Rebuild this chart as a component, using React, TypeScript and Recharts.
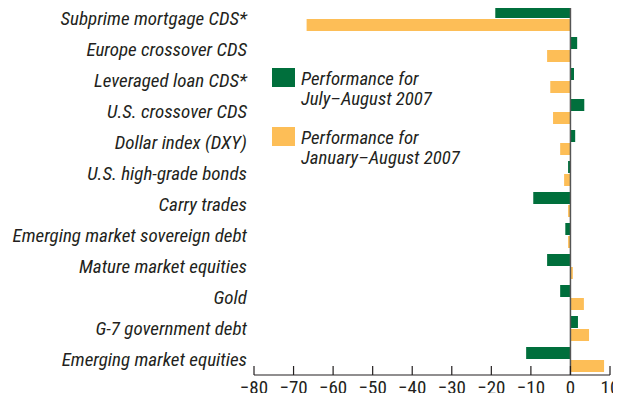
import { BarChart, Bar, XAxis, YAxis, ReferenceLine } from "recharts";

const categories: string[] = [
  "Subprime mortgage CDS*",
  "Europe crossover CDS",
  "Leveraged loan CDS*",
  "U.S. crossover CDS",
  "Dollar index (DXY)",
  "U.S. high-grade bonds",
  "Carry trades",
  "Emerging market sovereign debt",
  "Mature market equities",
  "Gold",
  "G-7 government debt",
  "Emerging market equities",
];

const julyAug: number[] = [-19.0, 1.7, 0.9, 3.5, 1.2, -0.6, -9.4, -1.3, -5.9, -2.6, 1.9, -11.2];
const janAug: number[] = [-66.7, -5.9, -5.1, -4.4, -2.6, -1.6, -0.6, -0.6, 0.6, 3.4, 4.7, 8.5];

const xTicks: number[] = [-80, -70, -60, -50, -40, -30, -20, -10, 0, 10];

const legendItems = [
  { key: "julyAug", lines: ["Performance for", "July\u2013August 2007"] },
  { key: "janAug", lines: ["Performance for", "January\u2013August 2007"] },
];

const data = categories.map((name, i) => ({
  name,
  julyAug: julyAug[i],
  janAug: janAug[i],
}));

const GREEN = "#006F3C";
const YELLOW = "#FDBE57";
const TEXT = "#231F20";
const FONT = "'Liberation Sans Narrow', 'Arial Narrow', 'Roboto Condensed', 'Liberation Sans', sans-serif";
const colors: Record<string, string> = { julyAug: GREEN, janAug: YELLOW };

const fmt = (v: number) => (v < 0 ? "\u2212" + Math.abs(v) : String(v));

function XTick(props: any) {
  const { x, y, payload } = props;
  return (
    <g>
      <line x1={x} x2={x} y1={y - 9} y2={y} stroke={TEXT} strokeWidth={1.2} />
      <text x={x} y={y + 19} textAnchor="middle" fill={TEXT} fontSize={19} fontFamily={FONT}>
        {fmt(payload.value)}
      </text>
    </g>
  );
}

function LegendBox() {
  return (
    <svg width={230} height={100} style={{ position: "absolute", left: 272, top: 68 }}>
      {legendItems.map((it, i) => (
        <g key={it.key} transform={`translate(0, ${i * 59})`}>
          <rect x={0} y={0} width={23} height={19} fill={colors[it.key]} />
          {it.lines.map((l, j) => (
            <text
              key={j}
              x={29}
              y={17 + j * 20}
              fontSize={18.8}
              fontStyle="italic"
              fill={TEXT}
              fontFamily={FONT}
            >
              {l}
            </text>
          ))}
        </g>
      ))}
    </svg>
  );
}

export default function App() {
  return (
    <div style={{ margin: -8, background: "#fff", position: "relative", width: 621, height: 401 }}>
      <BarChart
        width={621}
        height={401}
        data={data}
        layout="vertical"
        margin={{ top: 3, right: 11, bottom: 0, left: 0 }}
        barCategoryGap={3}
        barGap={1}
      >
        <XAxis
          type="number"
          domain={[-80, 10]}
          ticks={xTicks}
          interval={0}
          height={26}
          tickSize={0}
          tickMargin={0}
          tick={<XTick />}
          axisLine={{ stroke: TEXT, strokeWidth: 1.2 }}
          tickLine={false}
        />
        <YAxis
          type="category"
          dataKey="name"
          width={254}
          axisLine={false}
          tickLine={false}
          tickMargin={1}
          interval={0}
          tick={{ fill: TEXT, fontSize: 19, fontStyle: "italic", fontFamily: FONT }}
        />
        <ReferenceLine x={0} stroke="#555" strokeWidth={1.5} />
        <Bar dataKey="julyAug" fill={GREEN} isAnimationActive={false} />
        <Bar dataKey="janAug" fill={YELLOW} isAnimationActive={false} />
      </BarChart>
      <LegendBox />
    </div>
  );
}
